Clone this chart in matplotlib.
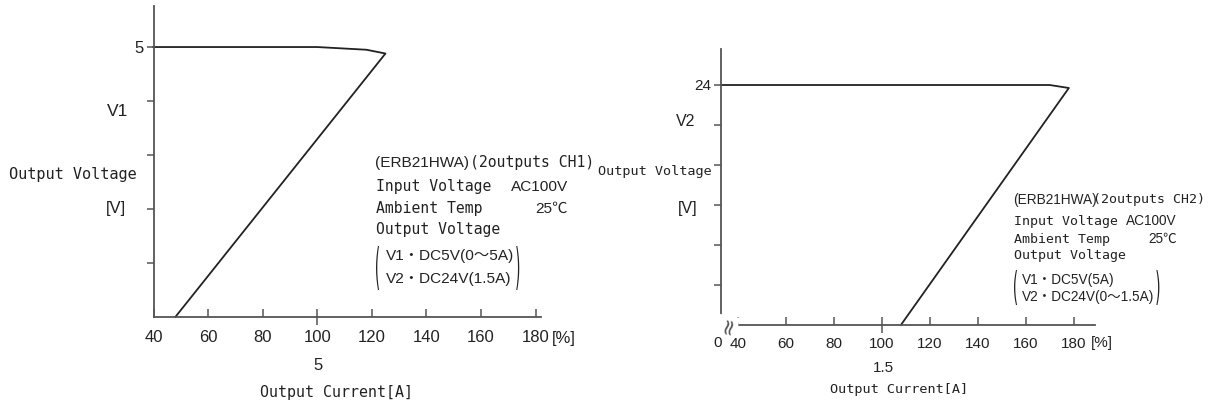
import matplotlib
matplotlib.use("Agg")
import matplotlib.pyplot as plt
from matplotlib import font_manager
from matplotlib.textpath import TextPath
from matplotlib.patches import PathPatch
from matplotlib.transforms import Affine2D, IdentityTransform
from matplotlib.font_manager import FontProperties

# --- data ---
# left chart: CH1 (V1 output), overcurrent characteristic
ch1_current = [40, 100, 118, 125, 48]        # [%]
ch1_voltage = [5.0, 5.0, 4.95, 4.88, 0.0]    # [V]
ch1_xticks = [40, 60, 80, 100, 120, 140, 160, 180]
ch1_yticks = [1, 2, 3, 4, 5]

# right chart: CH2 (V2 output)
ch2_current = [33, 170, 178, 108]            # [%]
ch2_voltage = [24.0, 24.0, 23.7, 0.0]        # [V]
ch2_xticks = [40, 60, 80, 100, 120, 140, 160, 180]
ch2_yticks = [4, 8, 12, 16, 20, 24]

W, H = 1212, 404
MONO = ["DejaVu Sans Mono", "Noto Sans CJK JP"]
SANS = ["Liberation Sans", "Noto Sans CJK JP", "DejaVu Sans"]
INK = "#222222"
AXC = "#555555"

# the spec boxes use a narrow sans; fall back to a smaller regular one
installed = {f.name for f in font_manager.fontManager.ttflist}
if "Liberation Sans Narrow" in installed:
    NARROW, NSCALE = ["Liberation Sans Narrow", "Noto Sans CJK JP", "DejaVu Sans"], 1.0
else:
    NARROW, NSCALE = SANS, 0.85

fig = plt.figure(figsize=(W / 100, H / 100), dpi=100, facecolor="white")
renderer = fig.canvas.get_renderer()


def px_axes(x0, x1, y_top, y_bot):
    return fig.add_axes([x0 / W, 1 - y_bot / H, (x1 - x0) / W, (y_bot - y_top) / H])


def ftxt(px, py, s, family=SANS, size=11, ha="left", va="center", **kw):
    return fig.text(px / W, 1 - py / H, s, family=family, fontsize=size, ha=ha,
                    va=va, color=INK, **kw)


def right_edge(*texts):
    return max(t.get_window_extent(renderer).x1 for t in texts)


def bracket(px, py_top, py_bot, ch):
    # tall thin parenthesis spanning two lines of the spec box
    tp = TextPath((0, 0), ch, size=15, prop=FontProperties(family="DejaVu Sans"))
    ext = tp.get_extents()
    sy = (py_bot - py_top) / ext.height
    tr = Affine2D().translate(-ext.x0, -ext.y0).scale(0.9, sy).translate(px, H - py_bot)
    fig.add_artist(PathPatch(tr.transform_path(tp), fc=INK, ec="none",
                             transform=IdentityTransform()))


def style(ax, xt, yt, ylab, fs):
    for side in ("top", "right"):
        ax.spines[side].set_visible(False)
    for side in ("left", "bottom"):
        ax.spines[side].set_color(AXC)
        ax.spines[side].set_linewidth(1.3)
    ax.set_xticks(xt)
    ax.set_xticklabels([str(v) for v in xt])
    ax.set_yticks(yt)
    ax.set_yticklabels(ylab)
    ax.tick_params(axis="x", direction="in", length=6, width=1.1, color=AXC,
                   pad=9, labelsize=fs, labelcolor=INK)
    ax.tick_params(axis="y", direction="out", length=5, width=1.1, color=AXC,
                   pad=2, labelsize=fs, labelcolor=INK)
    for lab in ax.get_xticklabels() + ax.get_yticklabels():
        lab.set_family(SANS)
    # the 100 % tick crosses the axis
    for t in ax.xaxis.get_major_ticks():
        if t.get_loc() == 100:
            t.tick1line.set_marker("|")
            t.tick1line.set_markersize(12)


def spec_box(x, x_end, ys, ch, v1, v2, right, fs_sans, fs_mono, gap, br_top, br_bot):
    fs_n = fs_sans * NSCALE
    ftxt(x, ys[0], "(ERB21HWA)", family=NARROW, size=fs_n)
    ftxt(x_end, ys[0], "(2outputs %s)" % ch, family=MONO, size=fs_mono, ha="right")
    ftxt(x + 1, ys[1], "Input Voltage", family=MONO, size=fs_mono)
    ftxt(right, ys[1], "AC100V", family=NARROW, size=fs_n, ha="right")
    ftxt(x + 1, ys[2], "Ambient Temp", family=MONO, size=fs_mono)
    ftxt(right, ys[2], "25℃", family=NARROW, size=fs_n, ha="right")
    ftxt(x + 1, ys[3], "Output Voltage", family=MONO, size=fs_mono)
    a = ftxt(x + gap, ys[4], v1, family=NARROW, size=fs_n)
    b = ftxt(x + gap, ys[5], v2, family=NARROW, size=fs_n)
    bracket(x + 1, br_top, br_bot, "(")
    bracket(right_edge(a, b) + 2, br_top, br_bot, ")")


# ---------------- left chart ----------------
ax1 = px_axes(153.5, 541, 6, 317)
ax1.plot(ch1_current, ch1_voltage, color=INK, lw=1.3, clip_on=False)
ax1.set_xlim(40, 182)
ax1.set_ylim(0, 5.76)
style(ax1, ch1_xticks, ch1_yticks, ["", "", "", "", "5"], 12)

ftxt(118, 112, "V1", size=12.5, ha="center")
ftxt(73, 175, "Output Voltage", family=MONO, size=11, ha="center")
ftxt(116, 209, "[V]", size=12, ha="center")
ftxt(318, 365, "5", size=12, ha="center")
ftxt(337, 392, "Output Current[A]", family=MONO, size=10.8, ha="center")
ftxt(552, 338, "[%]", size=12)

spec_box(375, 594, [163, 187, 209, 230, 256, 279], "CH1",
         "V1・DC5V(0～5A)", "V2・DC24V(1.5A)", 568,
         13, 10.6, 11, 246, 290)

# ---------------- right chart ----------------
ax2 = px_axes(720.7, 1095, 49, 325)
ax2.plot(ch2_current, ch2_voltage, color=INK, lw=1.3, clip_on=False)
ax2.set_xlim(32.9, 188.9)
ax2.set_ylim(0, 27.6)
style(ax2, ch2_xticks, ch2_yticks, ["", "", "", "", "", "24"], 11)
# axis break and the "0" at the origin
ax2.text(36.0, 0, "≈", rotation=78, ha="center", va="center", fontsize=16,
         color=AXC, family=["DejaVu Sans"], clip_on=False,
         bbox=dict(boxstyle="square,pad=0.0", fc="white", ec="none"))
ftxt(718, 343, "0", size=11, ha="center")

ftxt(686, 122, "V2", size=11.5, ha="center")
ftxt(712, 172, "Output Voltage", family=MONO, size=9.7, ha="right")
ftxt(688, 208, "[V]", size=11.5, ha="center")
ftxt(883, 368, "1.5", size=11, ha="center")
ftxt(899, 390, "Output Current[A]", family=MONO, size=9.7, ha="center")
ftxt(1091, 343, "[%]", size=11)

spec_box(1013, 1205, [200, 221, 239, 256, 280, 297], "CH2",
         "V1・DC5V(5A)", "V2・DC24V(0～1.5A)", 1177,
         11.5, 9.5, 9, 270, 305)

fig.savefig("out.png", dpi=100, facecolor="white")
